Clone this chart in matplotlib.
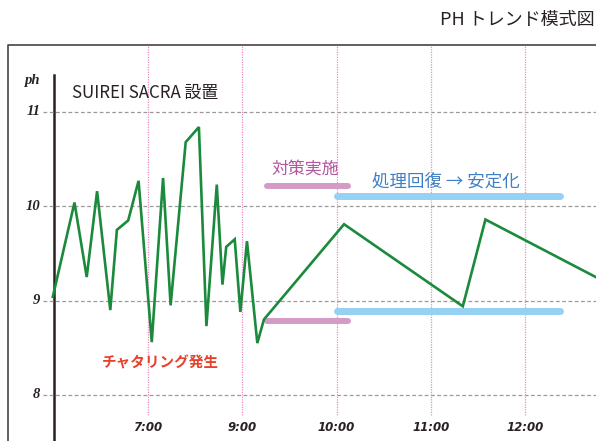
import matplotlib
matplotlib.use("Agg")
import matplotlib.pyplot as plt

plt.rcParams['font.family'] = ['Noto Sans CJK JP', 'DejaVu Sans']

# x positions: one unit per dotted gridline (labels are not evenly spaced in time)
tick_pos = [0, 1, 2, 3, 4]
tick_labels = ['7:00', '9:00', '10:00', '11:00', '12:00']
ph_ticks = [8, 9, 10, 11]

# pH trend
ph_x = [-1.01, -0.78, -0.65, -0.54, -0.40, -0.33, -0.21, -0.10, 0.04, 0.16,
        0.24, 0.40, 0.54, 0.62, 0.73, 0.79, 0.83, 0.92, 0.98, 1.05,
        1.16, 1.23, 2.08, 3.34, 3.58, 4.75]
ph_y = [9.04, 10.04, 9.25, 10.16, 8.90, 9.75, 9.85, 10.27, 8.56, 10.30,
        8.95, 10.68, 10.84, 8.73, 10.23, 9.17, 9.57, 9.65, 8.88, 9.63,
        8.55, 8.80, 9.81, 8.94, 9.86, 9.25]

# countermeasure band (pink) and recovery band (blue)
measure_x = [1.26, 2.12]
measure_levels = [10.22, 8.78]
recover_x = [2.00, 4.37]
recover_levels = [10.11, 8.89]

fig = plt.figure(figsize=(5.96, 4.41), dpi=100)
ax = fig.add_axes([0, 0, 1, 1])
ax.set_xlim(-1.570, 4.753)
ax.set_ylim(7.512, 12.187)
ax.axis('off')

# outer frame (runs off the right and bottom edge)
ax.plot([-1.485, -1.485, 4.8], [7.4, 11.71, 11.71], color='#4a4242', lw=1.2,
        clip_on=False)

# y axis line
ax.plot([-1.0, -1.0], [7.4, 11.39], color='#2b2020', lw=1.8)

# grid
for y in ph_ticks:
    ax.plot([-1.11, 4.8], [y, y], color='#9a9a9a', lw=0.9, ls=(0, (3, 2)))
for x in tick_pos:
    ax.plot([x, x], [7.79, 11.71], color='#ec8cc4', lw=0.9, ls=(0, (1, 1)))

# tick labels
for x, lab in zip(tick_pos, tick_labels):
    ax.text(x, 7.66, lab, ha='center', va='center', fontsize=8.5,
            style='italic', fontweight='bold', family='DejaVu Sans',
            color='#2a2222')
for y in ph_ticks:
    ax.text(-1.14, y, str(y), ha='right', va='center', fontsize=10.5,
            style='italic', fontweight='bold', family='Liberation Serif',
            color='#2a2222')
ax.text(-1.15, 11.33, 'ph', ha='right', va='center', fontsize=10.5,
        style='italic', fontweight='bold', family='Liberation Serif',
        color='#2a2222')

# bands
for lv in measure_levels:
    ax.plot(measure_x, [lv, lv], color='#d49bc6', lw=4.3,
            solid_capstyle='round')
for lv in recover_levels:
    ax.plot(recover_x, [lv, lv], color='#95d1f2', lw=5,
            solid_capstyle='round')

# pH line
ax.plot(ph_x, ph_y, color='#1b8a3c', lw=1.9, solid_joinstyle='miter')

# annotations
ax.text(-0.81, 11.20, 'SUIREI SACRA 設置', ha='left', va='center',
        fontsize=12.2, color='#2a2222')
ax.text(1.31, 10.39, '対策実施', ha='left', va='center', fontsize=12.2,
        color='#b4559e')
ax.text(2.38, 10.26, '処理回復 → 安定化', ha='left', va='center',
        fontsize=12.6, color='#3d7ec4')
ax.text(-0.49, 8.34, 'チャタリング発生', ha='left', va='center',
        fontsize=10.5, fontweight='bold', color='#e8412b')

fig.text(0.998, 0.955, 'PH トレンド模式図', ha='right', va='center',
         fontsize=13, color='#2a2222')

fig.savefig('out.png', dpi=100)
